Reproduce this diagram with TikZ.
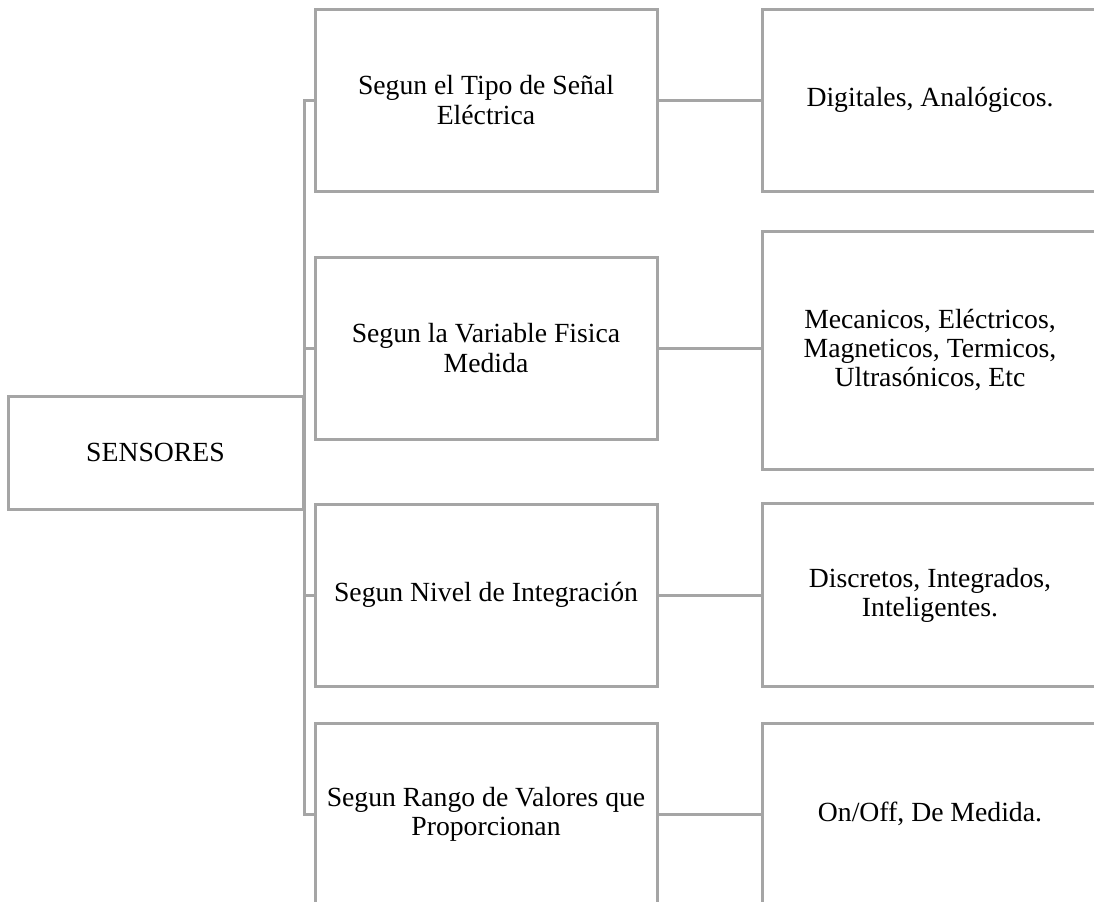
\documentclass[tikz,border=0pt]{standalone}
\usepackage{fontspec}
\setmainfont{Liberation Serif}
\usetikzlibrary{positioning}
\definecolor{linegray}{HTML}{A5A5A5}
\tikzset{
  box/.style={draw=linegray, line width=1.5pt, align=flush center, inner ysep=0pt,
    font=\fontsize{13.85}{14.6}\selectfont},
  midbox/.style={box, text width=165pt, inner xsep=3pt},
  endbox/.style={box, text width=162pt, inner xsep=3pt},
  link/.style={draw=linegray, line width=1.5pt},
}
\begin{document}
\begin{tikzpicture}[x=0.5pt,y=-0.5pt]
  \useasboundingbox (0,0) rectangle (1094,901);
  \clip (0,0) rectangle (1094,901);

  %root
  \node[box, minimum width=147.5pt, minimum height=56.5pt] (sens) at (155.5,452.5) {SENSORES};

  %second column
  \foreach \y/\txt/\name in {100/{Segun el Tipo de Señal\\Eléctrica}/m1,
                             348/{Segun la Variable Fisica\\Medida}/m2,
                             595/{Segun Nivel de Integración}/m3,
                             814/{Segun Rango de Valores que\\Proporcionan}/m4}{
    \node[midbox, minimum height=91pt] (\name) at (486,\y) {\txt};
  }

  %third column
  \foreach \y/\h/\txt/\name in {100/91/{Digitales, Analógicos.}/r1,
                                350/119/{Mecanicos, Eléctricos,\\Magneticos, Termicos,\\Ultrasónicos, Etc}/r2,
                                595/91.5/{Discretos, Integrados,\\Inteligentes.}/r3,
                                814/91/{On/Off, De Medida.}/r4}{
    \node[endbox, minimum height=\h pt] (\name) at (930,\y) {\txt};
  }

  %connectors
  \foreach \i in {1,...,4}{
    \draw[link] (sens.east) |- (m\i.west);
    \draw[link] (m\i.east) -- (m\i.east -| r\i.west);
  }

\end{tikzpicture}
\end{document}
